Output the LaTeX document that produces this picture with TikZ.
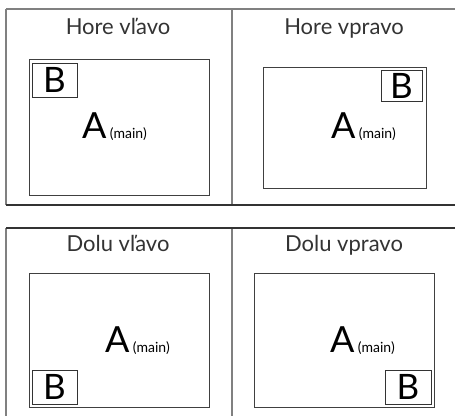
\documentclass[tikz,border=0pt]{standalone}
\usepackage{fontspec}
\setmainfont{Lato}
\begin{document}
\begin{tikzpicture}[x=1pt,y=1pt,
  frameV/.style={draw=black!50, line width=1.3pt},
  frameH/.style={draw=black!80, line width=1.1pt},
  frameT/.style={draw=black!50, line width=1.3pt},
  screen/.style={draw=black!75, line width=0.9pt, rectangle, inner sep=0pt},
  pip/.style={draw=black!80, line width=0.9pt, rectangle, inner sep=0pt, font=\fontsize{35}{35}\selectfont},
  title/.style={font=\fontsize{22}{22}\selectfont, text=black!80, anchor=base, inner sep=0pt},
  big/.style={font=\fontsize{36}{36}\selectfont, anchor=base west, inner sep=0pt},
  small/.style={font=\fontsize{14}{14}\selectfont, anchor=base west, inner sep=0pt}
]
\useasboundingbox (0,0) rectangle (455,416);
% frame coordinates
\coordinate (t1) at (6,407); \coordinate (t2) at (455,407);
\coordinate (m1) at (6,211); \coordinate (m2) at (455,211);
\coordinate (d1) at (232,407); \coordinate (d2) at (232,211);
\coordinate (b1) at (6,188); \coordinate (b2) at (455,188);
\coordinate (b3) at (6,0); \coordinate (e1) at (232,188); \coordinate (e2) at (232,0);
\draw[frameV] (t1) -- (m1);
\draw[frameV] (d1) -- (d2);
\draw[frameV] (b1) -- (b3);
\draw[frameV] (e1) -- (e2);
\draw[frameT] (t1) -- (t2);
\draw[frameH] (m1) -- (m2);
\draw[frameH] (b1) -- (b2);

% titles
\node[title] (tTL) at (118,381) {Hore vľavo};
\node[title] (tTR) at (344,381) {Hore vpravo};
\node[title] (tBL) at (118,165) {Dolu vľavo};
\node[title] (tBR) at (344,165) {Dolu vpravo};

% screens
\node[screen, minimum width=180pt, minimum height=136pt] (sTL) at (119,289) {};
\node[screen, minimum width=163pt, minimum height=121pt] (sTR) at (344.5,288.5) {};
\node[screen, minimum width=180pt, minimum height=134pt] (sBL) at (119,76) {};
\node[screen, minimum width=180pt, minimum height=134pt] (sBR) at (344,76) {};

% B windows
\node[pip, minimum width=45pt, minimum height=34pt] (pTL) at (54.5,336) {B};
\node[pip, minimum width=41pt, minimum height=31pt] (pTR) at (401.5,330.5) {B};
\node[pip, minimum width=45pt, minimum height=34pt] (pBL) at (54.5,29) {B};
\node[pip, minimum width=46pt, minimum height=34pt] (pBR) at (408,29) {B};

% A (main)
\node[big] (aTL) at (82,278) {A};
\node[small] (mTL) at ([xshift=3pt]aTL.base east) {(main)};
\node[big] (aTR) at (331,278) {A};
\node[small] (mTR) at ([xshift=3pt]aTR.base east) {(main)};
\node[big] (aBL) at (105,64) {A};
\node[small] (mBL) at ([xshift=3pt]aBL.base east) {(main)};
\node[big] (aBR) at (330,64) {A};
\node[small] (mBR) at ([xshift=3pt]aBR.base east) {(main)};
\end{tikzpicture}
\end{document}
